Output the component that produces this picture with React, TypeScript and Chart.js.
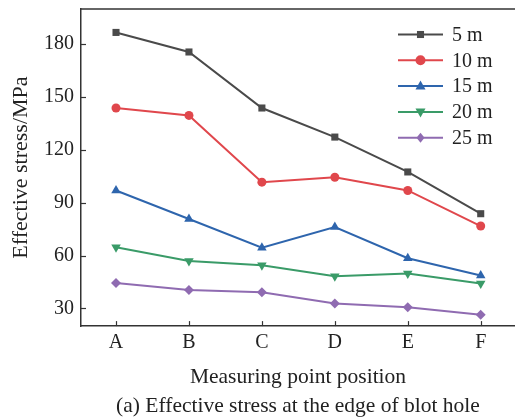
import React, { useEffect, useRef } from "react";
import { Chart, registerables } from "chart.js";

Chart.register(...registerables);

const categories = ["A", "B", "C", "D", "E", "F"];
const seriesLabels = ["5 m", "10 m", "15 m", "20 m", "25 m"];
const s5 = [186.7, 175.6, 143.8, 127.3, 107.5, 83.8];
const s10 = [143.8, 139.6, 101.7, 104.5, 97.0, 76.8];
const s15 = [97.0, 80.8, 64.5, 76.2, 58.5, 48.7];
const s20 = [64.7, 57.0, 54.5, 48.3, 49.8, 44.2];
const s25 = [44.5, 40.5, 39.2, 32.8, 30.7, 26.4];
const yTickValues = [30, 60, 90, 120, 150, 180];
const colors = ["#4a4a4a", "#e0474c", "#2e65ad", "#3a9b68", "#8f6bb1"];
const pointStyles = ["rect", "circle", "triangle", "triangle", "rectRot"];
const pointRotations = [0, 0, 0, 180, 0];
const pointRadii = [5, 4.5, 5.5, 5.5, 5];

const FONT = "'Liberation Serif', 'Times New Roman', serif";
const AXIS = "#333333";

function drawMarker(ctx: CanvasRenderingContext2D, style: string, rot: number, x: number, y: number, r: number, color: string) {
  ctx.save();
  ctx.fillStyle = color;
  ctx.translate(x, y);
  ctx.rotate((rot * Math.PI) / 180);
  ctx.beginPath();
  if (style === "rect") {
    const s = r * Math.SQRT2;
    ctx.rect(-s / 2, -s / 2, s, s);
  } else if (style === "circle") {
    ctx.arc(0, 0, r, 0, Math.PI * 2);
  } else if (style === "triangle") {
    ctx.moveTo(0, -r * 1.1);
    ctx.lineTo(r, r * 0.7);
    ctx.lineTo(-r, r * 0.7);
    ctx.closePath();
  } else {
    ctx.moveTo(0, -r);
    ctx.lineTo(r * 0.8, 0);
    ctx.lineTo(0, r);
    ctx.lineTo(-r * 0.8, 0);
    ctx.closePath();
  }
  ctx.fill();
  ctx.restore();
}

const framePlugin = {
  id: "frameTicks",
  afterDraw(chart: any) {
    const { ctx, chartArea, scales } = chart;
    ctx.save();
    ctx.strokeStyle = AXIS;
    ctx.lineWidth = 1.5;
    ctx.beginPath();
    ctx.moveTo(chartArea.left, chartArea.top);
    ctx.lineTo(chartArea.right, chartArea.top);
    ctx.stroke();
    ctx.lineWidth = 1.2;
    scales.x.ticks.forEach((t: any) => {
      const px = Math.round(scales.x.getPixelForValue(t.value)) + 0.5;
      ctx.beginPath();
      ctx.moveTo(px, chartArea.bottom);
      ctx.lineTo(px, chartArea.bottom - 5);
      ctx.stroke();
    });
    scales.y.ticks.forEach((t: any) => {
      const py = Math.round(scales.y.getPixelForValue(t.value)) + 0.5;
      ctx.beginPath();
      ctx.moveTo(chartArea.left, py);
      ctx.lineTo(chartArea.left + 5, py);
      ctx.stroke();
    });
    // legend
    const x0 = 398;
    const x1 = 443;
    const yStart = 34.5;
    const step = 25.8;
    ctx.font = `20px ${FONT}`;
    ctx.textBaseline = "middle";
    ctx.textAlign = "left";
    chart.data.datasets.forEach((ds: any, i: number) => {
      const y = yStart + i * step;
      ctx.strokeStyle = ds.borderColor;
      ctx.lineWidth = 2;
      ctx.beginPath();
      ctx.moveTo(x0, y);
      ctx.lineTo(x1, y);
      ctx.stroke();
      drawMarker(ctx, ds.pointStyle, ds.pointRotation, (x0 + x1) / 2, y, 5, ds.borderColor);
      ctx.fillStyle = "#222";
      ctx.fillText(ds.label, 452, y + 1);
    });
    ctx.restore();
  },
};

export default function App() {
  const ref = useRef<HTMLCanvasElement>(null);
  useEffect(() => {
    const all = [s5, s10, s15, s20, s25];
    const chart = new Chart(ref.current as HTMLCanvasElement, {
      type: "line",
      data: {
        datasets: all.map((vals, i) => ({
          label: seriesLabels[i],
          data: vals.map((v, j) => ({ x: j + 1, y: v })),
          borderColor: colors[i],
          backgroundColor: colors[i],
          pointBackgroundColor: colors[i],
          pointBorderColor: colors[i],
          pointBorderWidth: 0,
          pointStyle: pointStyles[i] as any,
          pointRotation: pointRotations[i],
          pointRadius: pointRadii[i],
          borderWidth: 2,
          tension: 0,
          clip: false as any,
        })),
      },
      options: {
        animation: false,
        responsive: false,
        devicePixelRatio: 1,
        layout: { autoPadding: false, padding: { left: 0, right: 0, top: 9, bottom: 0 } },
        plugins: {
          legend: { display: false },
          tooltip: { enabled: false },
          title: {
            display: true,
            position: "bottom",
            fullSize: false,
            text: "(a) Effective stress at the edge of blot hole",
            color: "#222",
            font: { family: FONT, size: 21.5, weight: "normal" as any, lineHeight: 1.2 },
            padding: { top: 0, bottom: 0 },
          },
        },
        scales: {
          x: {
            type: "linear",
            min: 0.52,
            max: 6.47,
            afterBuildTicks: (scale: any) => {
              scale.ticks = categories.map((_, i) => ({ value: i + 1 }));
            },
            afterFit: (scale: any) => {
              scale.paddingLeft = 0;
              scale.paddingRight = 0;
            },
            ticks: {
              callback: (v: any) => categories[Number(v) - 1] ?? "",
              color: "#222",
              font: { family: FONT, size: 20 },
              padding: 5,
              maxRotation: 0,
            },
            grid: { display: false, drawTicks: false },
            border: { display: true, color: AXIS, width: 1.5 },
            title: {
              display: true,
              text: "Measuring point position",
              color: "#222",
              font: { family: FONT, size: 21.5, lineHeight: 1.2 },
              padding: { top: 4, bottom: 3.3 },
            },
          },
          y: {
            type: "linear",
            min: 20,
            max: 200,
            afterBuildTicks: (scale: any) => {
              scale.ticks = yTickValues.map((v) => ({ value: v }));
            },
            afterFit: (scale: any) => {
              scale.width = 81;
              scale.paddingTop = 0;
              scale.paddingBottom = 0;
            },
            ticks: {
              color: "#222",
              font: { family: FONT, size: 20 },
              padding: 7,
            },
            grid: { display: false, drawTicks: false },
            border: { display: true, color: AXIS, width: 1.5 },
            title: {
              display: true,
              text: "Effective stress/MPa",
              color: "#222",
              font: { family: FONT, size: 22, lineHeight: 1.2 },
              padding: { top: 8, bottom: 0 },
            },
          },
        },
      },
      plugins: [framePlugin],
    });
    return () => chart.destroy();
  }, []);
  return (
    <div style={{ position: "absolute", left: 0, top: 0, width: 515, height: 419, background: "#fff" }}>
      <canvas ref={ref} width={515} height={419} style={{ display: "block" }} />
    </div>
  );
}
